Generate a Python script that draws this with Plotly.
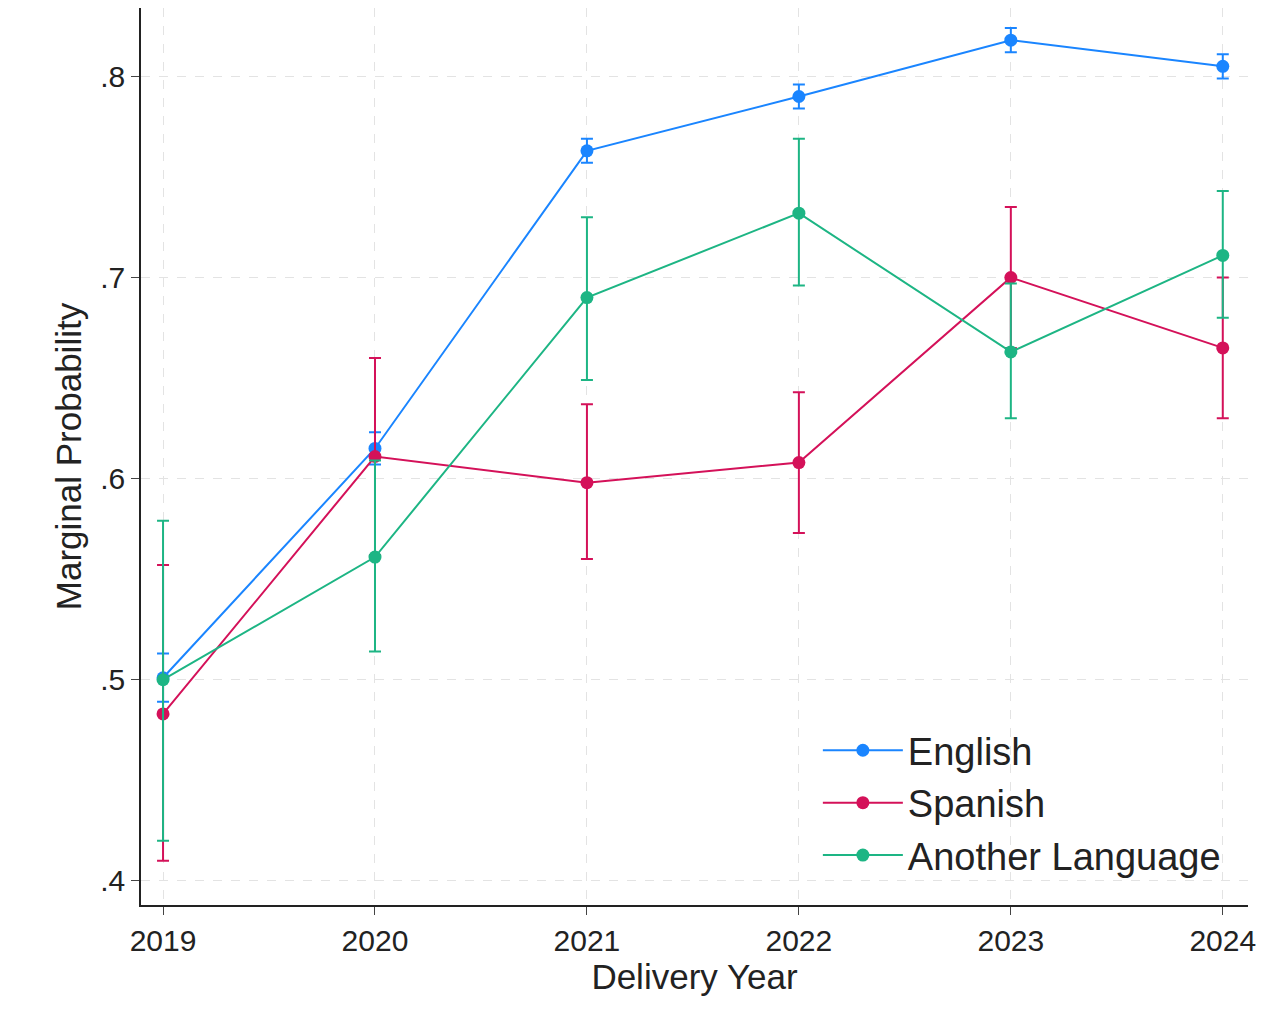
import plotly.graph_objects as go

years = [2019, 2020, 2021, 2022, 2023, 2024]
english = [0.501, 0.615, 0.763, 0.790, 0.818, 0.805]
english_lo = [0.489, 0.607, 0.757, 0.784, 0.812, 0.799]
english_hi = [0.513, 0.623, 0.769, 0.796, 0.824, 0.811]
spanish = [0.483, 0.611, 0.598, 0.608, 0.700, 0.665]
spanish_lo = [0.410, 0.562, 0.560, 0.573, 0.665, 0.630]
spanish_hi = [0.557, 0.660, 0.637, 0.643, 0.735, 0.700]
another = [0.500, 0.561, 0.690, 0.732, 0.663, 0.711]
another_lo = [0.420, 0.514, 0.649, 0.696, 0.630, 0.680]
another_hi = [0.579, 0.609, 0.730, 0.769, 0.697, 0.743]
names = ["English", "Spanish", "Another Language"]
colors = ["#1a85ff", "#d41159", "#1db584"]

fig = go.Figure()
for name, c, y, lo, hi in zip(names, colors, [english, spanish, another],
                              [english_lo, spanish_lo, another_lo],
                              [english_hi, spanish_hi, another_hi]):
    fig.add_trace(go.Scatter(
        x=years, y=y, mode="lines+markers", name=name,
        line=dict(color=c, width=2), marker=dict(color=c, size=13),
        error_y=dict(type="data", symmetric=False,
                     array=[h - v for h, v in zip(hi, y)],
                     arrayminus=[v - l for v, l in zip(y, lo)],
                     color=c, thickness=2, width=6)))

fig.update_layout(
    width=1280, height=1032, plot_bgcolor="white", paper_bgcolor="white",
    margin=dict(l=133, r=40, t=0, b=135),
    font=dict(family="Liberation Sans, Arial", color="#222", size=30),
    legend=dict(x=0.98, y=0.02, xanchor="right", yanchor="bottom",
                bgcolor="rgba(0,0,0,0)", font=dict(size=38), itemwidth=80),
    xaxis=dict(range=[2018.896, 2024.119], tickvals=years, ticks="outside",
               ticklen=8, showline=True, linecolor="#222", linewidth=1.5,
               showgrid=True, gridcolor="#e3e3e3", griddash="dash",
               zeroline=False, tickfont=dict(size=30),
               title=dict(text="Delivery Year", font=dict(size=35), standoff=8)),
    yaxis=dict(range=[0.388, 0.834], tickvals=[0.4, 0.5, 0.6, 0.7, 0.8],
               ticktext=[".4", ".5", ".6", ".7", ".8"], ticks="outside",
               ticklen=8, showline=True, linecolor="#222", linewidth=1.5,
               showgrid=True, gridcolor="#e3e3e3", griddash="dash",
               zeroline=False, tickfont=dict(size=30),
               title=dict(text="Marginal Probability", font=dict(size=35), standoff=8)),
)
fig.write_html("out.html")
